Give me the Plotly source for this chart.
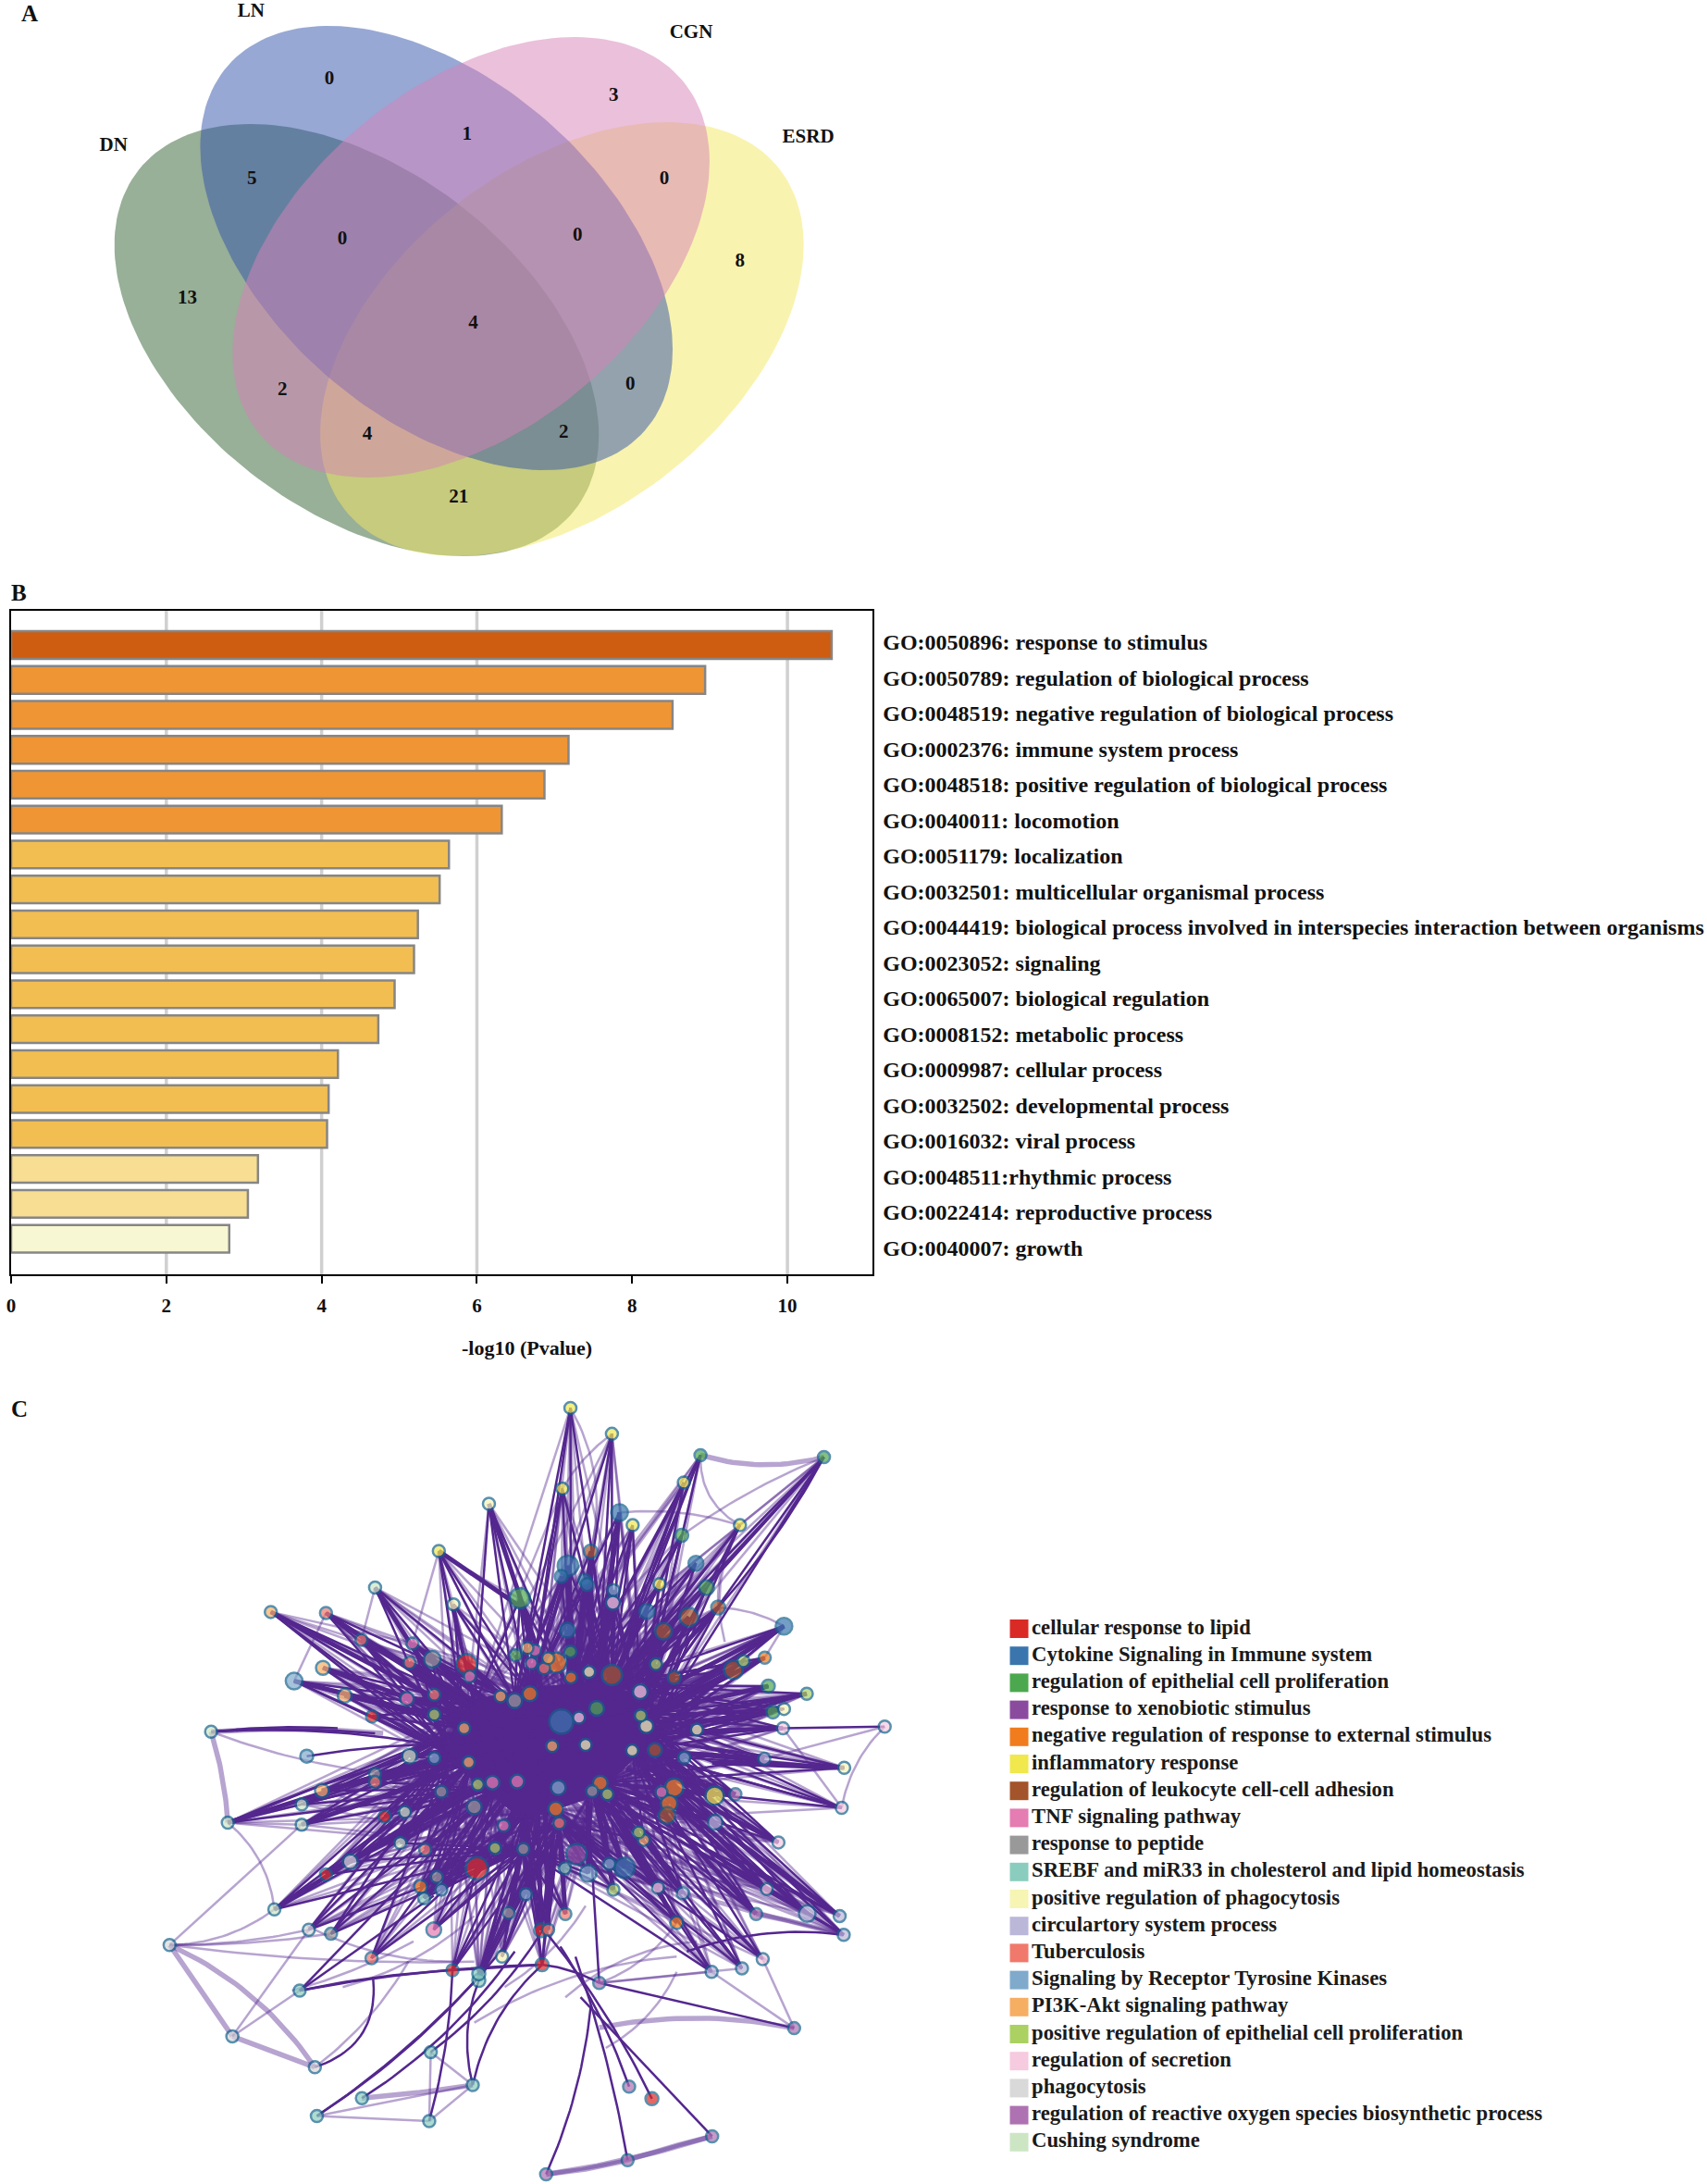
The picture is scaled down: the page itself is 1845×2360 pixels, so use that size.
import numpy as np
import plotly.graph_objects as go

FONT = "Liberation Serif"
W, H = 1845, 2360

# ---------- Panel A: Venn ----------
venn_names = ["DN", "ESRD", "LN", "CGN"]
venn_cx = [385.5, 608, 472, 509.5]
venn_cy = [367.5, 366.5, 268, 278]
venn_w = [262.5, 262, 256, 258.5]
venn_h = [233.5, 234.5, 240, 238]
venn_rho = [0.44, -0.435, 0.457, -0.435]
venn_fill = ["rgba(49,95,49,0.5)", "rgba(243,231,97,0.5)", "rgba(47,81,169,0.5)", "rgba(215,129,183,0.5)"]
venn_label_x = [122, 875, 271, 748]
venn_label_y = [158, 149, 13, 36]
count_values = ["0", "3", "1", "0", "5", "0", "0", "8", "13", "4", "2", "0", "4", "2", "21"]
count_x = [356, 664, 505, 719, 272, 370, 625, 801, 202, 512, 305, 682, 397, 610, 496]
count_y = [86, 104, 146, 194, 194, 258.5, 255, 283, 323, 350, 422, 416, 470, 468, 538]

# ---------- Panel B: bars ----------
go_terms = [
    "GO:0050896: response to stimulus",
    "GO:0050789: regulation of biological process",
    "GO:0048519: negative regulation of biological process",
    "GO:0002376: immune system process",
    "GO:0048518: positive regulation of biological process",
    "GO:0040011: locomotion",
    "GO:0051179: localization",
    "GO:0032501: multicellular organismal process",
    "GO:0044419: biological process involved in interspecies interaction between organisms",
    "GO:0023052: signaling",
    "GO:0065007: biological regulation",
    "GO:0008152: metabolic process",
    "GO:0009987: cellular process",
    "GO:0032502: developmental process",
    "GO:0016032: viral process",
    "GO:0048511:rhythmic process",
    "GO:0022414: reproductive process",
    "GO:0040007: growth",
]
go_values = [10.57, 8.94, 8.52, 7.18, 6.87, 6.32, 5.64, 5.52, 5.24, 5.19, 4.94, 4.73, 4.21, 4.09, 4.07, 3.18, 3.05, 2.81]
go_colors = ["#CE5D12"] + ["#F09533"] * 5 + ["#F2BE52"] * 9 + ["#F7DE92"] * 2 + ["#F7F7D3"]
grid_values = [2, 4, 6, 10]

# ---------- Panel C: network, one node list per cluster ----------
cluster_names = [
    "cellular response to lipid", "Cytokine Signaling in Immune system",
    "regulation of epithelial cell proliferation", "response to xenobiotic stimulus",
    "negative regulation of response to external stimulus", "inflammatory response",
    "regulation of leukocyte cell-cell adhesion", "TNF signaling pathway", "response to peptide",
    "SREBF and miR33 in cholesterol and lipid homeostasis", "positive regulation of phagocytosis",
    "circulartory system process", "Tuberculosis", "Signaling by Receptor Tyrosine Kinases",
    "PI3K-Akt signaling pathway", "positive regulation of epithelial cell proliferation",
    "regulation of secretion", "phagocytosis", "regulation of reactive oxygen species biosynthetic process",
    "Cushing syndrome",
]
cluster_colors = ["#DA2A26", "#3A76AD", "#4CA84E", "#8A4B9F", "#F07C1E", "#F0E84C", "#A3542A", "#E57CB2",
                  "#999999", "#8ACDBE", "#F6F5B4", "#BBB7D9", "#F0796C", "#7FAACC", "#F6AE63", "#AAD162",
                  "#F6CADF", "#D9D9D9", "#AE72B2", "#CCE6C4"]

x0_ = [645, 458, 483, 367, 665, 792, 794, 617, 1011]
y0_ = [544, 647, 844, 958, 946, 1068, 1136, 1147, 1400]
s0_ = [20, 11, 11, 11, 22, 13, 12, 11, 12]
x1_ = [947, 845, 832, 878, 883, 1098, 1001, 1272, 844, 832, 957]
y1_ = [245, 350, 371, 378, 387, 345, 440, 469, 477, 657, 945]
s1_ = [16, 20, 12, 11, 12, 14, 14, 16, 14, 24, 20]
x2_ = [1107, 1351, 1070, 1119, 750, 742, 850, 1241, 902, 1250]
y2_ = [132, 136, 290, 393, 414, 526, 519, 587, 631, 638]
s2_ = [11, 11, 12, 14, 20, 11, 11, 12, 14, 12]
x3_ = [862]
y3_ = [918]
s3_ = [20]
x4_ = [822, 851, 1234, 770, 909, 1055, 1045, 821, 554, 1060]
y4_ = [541, 570, 531, 602, 778, 787, 818, 829, 982, 1053]
s4_ = [20, 11, 11, 14, 14, 18, 16, 14, 12, 12]
x5_ = [850, 932, 1074, 834, 973, 1185, 590, 1026, 1135]
y5_ = [39, 90, 186, 198, 270, 270, 321, 386, 803]
s5_ = [11, 11, 11, 11, 11, 11, 11, 11, 18]
x6_ = [890, 1142, 1084, 1034, 932, 1172, 1055, 1017, 1041]
y6_ = [322, 432, 451, 479, 565, 555, 570, 713, 842]
s6_ = [13, 13, 18, 16, 20, 18, 12, 13, 16]
x7_ = [538, 651, 780, 773, 527, 696, 745, 1030, 718, 580]
y7_ = [503, 568, 517, 542, 612, 777, 775, 796, 862, 1067]
s7_ = [11, 11, 11, 11, 13, 13, 13, 11, 11, 14]
x8_ = [577, 740, 464, 595, 660, 893, 757, 586, 728, 377]
y8_ = [534, 616, 760, 795, 825, 794, 908, 963, 1034, 1075]
s8_ = [16, 14, 11, 11, 14, 11, 11, 11, 11, 11]
x9_ = [839, 561, 669, 669, 315, 574, 657, 438, 349, 571]
y9_ = [946, 1005, 1167, 1154, 1187, 1308, 1373, 1399, 1434, 1444]
s9_ = [11, 11, 12, 12, 11, 11, 11, 11, 11, 11]
x10 = [689, 619, 887, 1000, 1272, 1100, 880, 972, 1391, 715]
y10 = [228, 426, 559, 666, 632, 673, 703, 714, 748, 1120]
s10 = [11, 11, 11, 13, 11, 11, 11, 11, 11, 11]
x11 = [1233, 1136, 1072, 1318, 1382, 1390, 1129, 1189]
y11 = [730, 855, 995, 1035, 1040, 1077, 1150, 1143]
s11 = [11, 14, 11, 16, 11, 11, 11, 11]
x12 = [367, 437, 532, 798, 581, 464, 828, 563, 840, 806, 457]
y12 = [443, 496, 541, 552, 604, 776, 857, 909, 1036, 1067, 1123]
s12 = [11, 11, 11, 11, 11, 11, 11, 11, 11, 11, 11]
x13 = [304, 935, 581, 329, 1075, 826, 885, 927, 595, 762]
y13 = [577, 398, 729, 725, 728, 787, 956, 937, 988, 997]
s13 = [16, 11, 11, 12, 11, 14, 16, 11, 11, 11]
x14 = [258, 361, 404, 765, 806, 712, 640, 814, 649, 359, 995]
y14 = [441, 551, 606, 512, 532, 607, 670, 705, 737, 793, 890]
s14 = [11, 13, 13, 11, 11, 11, 11, 11, 11, 13, 11]
x15 = [581, 1019, 1192, 1317, 989, 667, 923, 985, 701, 935]
y15 = [643, 544, 538, 602, 645, 781, 800, 875, 906, 988]
s15 = [11, 11, 11, 11, 11, 11, 11, 11, 11, 11]
x16 = [934, 988, 867, 1270, 1471, 1386, 1261, 1023, 1238, 1230]
y16 = [423, 598, 649, 670, 667, 827, 895, 984, 987, 1125]
s16 = [13, 14, 11, 11, 11, 11, 11, 11, 11, 11]
x17 = [415, 333, 58, 182, 345]
y17 = [933, 1067, 1097, 1277, 1338]
s17 = [14, 11, 11, 11, 11]
x18 = [1176, 1217, 907, 1292, 966, 1130, 963, 802]
y18 = [800, 1036, 1172, 1261, 1376, 1474, 1521, 1549]
s18 = [11, 11, 11, 11, 11, 11, 11, 11]
x19 = [464, 140, 532, 319, 173, 319, 523, 514, 265]
y19 = [393, 677, 725, 820, 856, 860, 835, 896, 1027]
s19 = [11, 11, 14, 11, 11, 11, 11, 11, 11]

cluster_x = [x0_, x1_, x2_, x3_, x4_, x5_, x6_, x7_, x8_, x9_, x10, x11, x12, x13, x14, x15, x16, x17, x18, x19]
cluster_y = [y0_, y1_, y2_, y3_, y4_, y5_, y6_, y7_, y8_, y9_, y10, y11, y12, y13, y14, y15, y16, y17, y18, y19]
cluster_s = [s0_, s1_, s2_, s3_, s4_, s5_, s6_, s7_, s8_, s9_, s10, s11, s12, s13, s14, s15, s16, s17, s18, s19]

# central nodes that most terms connect to
core_x = [740, 770, 832, 902, 867, 880, 814, 972, 1000, 745, 826, 909, 893, 696, 851, 932, 989, 640, 655, 660, 610, 700, 760, 780]
core_y = [616, 602, 657, 631, 649, 703, 705, 714, 690, 775, 787, 778, 794, 710, 600, 585, 645, 670, 737, 625, 720, 790, 840, 690]
spoke_x = [821, 757, 828]
spoke_y = [829, 908, 857]
# terms on the rim with only the hand-read links below
rim_x = [58, 182, 345, 802, 963, 1130, 1292, 1471, 349, 438, 571, 574, 657, 315, 966, 1011, 907, 140, 329]
rim_y = [1097, 1277, 1338, 1549, 1521, 1474, 1261, 667, 1434, 1399, 1444, 1308, 1373, 1187, 1376, 1400, 1172, 677, 725]

# heavy bundles running into the core: x0, y0, x1, y1
trunk_links = [
    (845, 350, 860, 610), (890, 322, 890, 610), (947, 245, 900, 570), (880, 400, 860, 610), (934, 423, 890, 600),
    (844, 477, 850, 620), (850, 519, 840, 640), (1034, 479, 945, 640), (1084, 451, 950, 620), (1142, 432, 960, 630),
    (1172, 555, 1000, 660), (1272, 469, 1000, 650), (1272, 469, 1020, 600), (1317, 602, 1010, 660), (1241, 587, 1010, 640),
    (1250, 638, 1000, 670), (1270, 670, 1000, 680), (1234, 531, 1000, 650), (1055, 570, 960, 650), (1075, 728, 980, 715),
    (1233, 730, 1020, 715), (1391, 748, 1130, 738), (1041, 842, 950, 770), (1055, 787, 960, 750), (1135, 803, 980, 740),
    (1176, 800, 980, 740), (1261, 895, 1040, 780), (1382, 1040, 1040, 790), (1318, 1035, 1030, 790), (1217, 1036, 1000, 800),
    (1238, 987, 1020, 790), (1072, 995, 960, 820), (1023, 984, 930, 820), (1060, 1053, 930, 830), (935, 988, 905, 830),
    (957, 945, 900, 810), (885, 956, 885, 820), (792, 1068, 785, 820), (806, 1067, 800, 820), (728, 1034, 770, 820),
    (762, 997, 790, 810), (840, 1036, 825, 820), (757, 908, 790, 800), (701, 906, 770, 790), (665, 946, 760, 800),
    (595, 988, 740, 790), (561, 1005, 720, 800), (563, 909, 720, 780), (415, 933, 690, 780), (367, 958, 660, 790),
    (265, 1027, 640, 790), (319, 860, 610, 760), (359, 793, 620, 730), (464, 776, 650, 720), (173, 856, 464, 765),
    (532, 725, 700, 700), (527, 612, 700, 660), (404, 606, 660, 660), (361, 551, 640, 650), (304, 577, 640, 660),
    (258, 441, 660, 650), (367, 443, 660, 640), (437, 496, 680, 640), (532, 541, 700, 640), (577, 534, 720, 640),
    (645, 544, 740, 630), (590, 321, 750, 430), (750, 414, 800, 620), (689, 228, 800, 560), (464, 393, 620, 640),
    (538, 503, 710, 640),
]
# visible individual links: x0, y0, x1, y1, bend
strong_links = [
    (140, 677, 560, 700, -0.03), (329, 725, 650, 700, -0.02), (173, 856, 530, 730, -0.02),
    (315, 1187, 617, 1147, -0.02), (315, 1187, 794, 1136, -0.02), (315, 1187, 580, 1000, 0.0), (315, 1187, 640, 850, 0.0),
    (349, 1434, 669, 1160, 0.03), (349, 1434, 720, 1100, 0.04), (438, 1399, 740, 1110, 0.05), (574, 1308, 800, 1060, 0.05),
    (571, 1444, 617, 1147, 0.03), (657, 1373, 669, 1167, -0.08), (657, 1373, 794, 1136, -0.08), (345, 1338, 460, 1160, 0.2),
    (617, 1147, 794, 1136, 0.0), (802, 1549, 890, 1220, 0.04), (963, 1521, 860, 1120, 0.02), (1130, 1474, 870, 1200, 0.0),
    (966, 1376, 830, 1100, 0.03), (1011, 1400, 800, 1070, 0.03), (1292, 1261, 907, 1172, 0.0), (794, 1136, 907, 1172, -0.05),
    (907, 1172, 890, 900, 0.0), (1386, 827, 1000, 720, 0.0), (1391, 748, 1075, 728, 0.0),
    (1351, 136, 1142, 432, -0.03), (1351, 136, 950, 560, 0.01), (1390, 1077, 1080, 1110, 0.06), (140, 677, 464, 680, -0.02),
    (140, 677, 390, 670, -0.02), (1471, 667, 1270, 670, 0.0),
]
light_links = [
    (1351, 136, 1185, 270, 0.0), (1351, 136, 1070, 290, 0.03), (1185, 270, 947, 245, 0.05), (1185, 270, 1142, 432, 0.08),
    (1185, 270, 1155, 500, 0.1), (1107, 132, 1185, 270, 0.15), (850, 39, 890, 322, -0.1), (932, 90, 834, 198, 0.05),
    (1272, 469, 1142, 432, 0.06), (1272, 469, 1234, 531, 0.0), (1471, 667, 1233, 730, 0.0), (1471, 667, 1386, 827, 0.08),
    (1386, 827, 1270, 670, 0.0), (140, 677, 480, 760, 0.03), (173, 856, 319, 860, 0.0), (173, 856, 319, 820, 0.0),
    (173, 856, 265, 1027, -0.1), (258, 441, 538, 503, 0.0), (367, 443, 304, 577, 0.0), (367, 443, 538, 503, 0.0),
    (464, 393, 645, 544, 0.0), (464, 393, 437, 496, 0.0), (590, 321, 750, 414, 0.02), (590, 321, 538, 503, 0.0),
    (619, 426, 645, 544, 0.0), (58, 1097, 265, 1027, 0.08), (58, 1097, 333, 1067, 0.03), (58, 1097, 377, 1075, 0.02),
    (58, 1097, 660, 1130, 0.02), (58, 1097, 319, 860, 0.0), (182, 1277, 333, 1067, 0.0), (182, 1277, 315, 1187, 0.0),
    (345, 1338, 530, 1130, 0.05), (349, 1434, 657, 1373, 0.0), (349, 1434, 571, 1444, 0.0), (574, 1308, 571, 1444, 0.0),
    (574, 1308, 657, 1373, 0.0), (571, 1444, 657, 1373, 0.0), (1292, 1261, 1230, 1125, 0.0), (1292, 1261, 1129, 1150, 0.0),
    (907, 1172, 1129, 1150, 0.0), (907, 1172, 1189, 1143, 0.0), (907, 1172, 1060, 1053, 0.08), (920, 1300, 1060, 1150, 0.08),
    (1390, 1077, 1217, 1036, 0.0), (840, 1200, 1100, 1090, -0.08), (660, 1250, 1060, 1120, -0.06), (400, 1180, 660, 1040, 0.06),
    (300, 1187, 540, 1090, 0.03), (720, 1180, 880, 1020, 0.06), (330, 1060, 620, 1130, 0.06), (1100, 1000, 1240, 1130, 0.0),
]
thick_links = [
    (1107, 132, 1351, 136, 0.07), (140, 677, 173, 856, -0.03), (58, 1097, 182, 1277, 0.0), (58, 1097, 345, 1338, -0.07),
    (182, 1277, 345, 1338, 0.0), (438, 1399, 657, 1373, 0.01), (802, 1549, 963, 1521, 0.02), (802, 1549, 1130, 1474, 0.02),
    (963, 1521, 1130, 1474, -0.01), (1292, 1261, 907, 1260, 0.05), (1390, 1077, 1217, 1036, 0.01), (140, 677, 480, 680, -0.02),
]

# ---------- build curves from the lists ----------
def curve(x0, y0, x1, y1, bend, out_x, out_y):
    if bend == 0:
        out_x += [x0, x1, None]
        out_y += [y0, y1, None]
        return
    mx, my = (x0 + x1) / 2, (y0 + y1) / 2
    cx, cy = mx - (y1 - y0) * bend * 2, my + (x1 - x0) * bend * 2
    for t in np.linspace(0, 1, 24):
        out_x.append(float((1 - t) ** 2 * x0 + 2 * t * (1 - t) * cx + t ** 2 * x1))
        out_y.append(float((1 - t) ** 2 * y0 + 2 * t * (1 - t) * cy + t ** 2 * y1))
    out_x.append(None)
    out_y.append(None)

rim = set(zip(rim_x, rim_y))
core = list(zip(core_x, core_y))
hubs = core + list(zip(spoke_x, spoke_y))
CENTER = (800, 700)
sx, sy, lx, ly, tx, ty, bx, by, kx, ky = [], [], [], [], [], [], [], [], [], []
for xs, ys in zip(cluster_x, cluster_y):
    for nx, ny in zip(xs, ys):
        if (nx, ny) in rim:
            continue
        order = sorted(hubs, key=lambda h: (h[0] - nx) ** 2 + (h[1] - ny) ** 2)
        inner = (nx - CENTER[0]) ** 2 + (ny - CENTER[1]) ** 2 < 260 ** 2
        n_strong, n_light = (1, 3) if inner else (4, 6)
        for hx, hy in order[:n_strong]:
            curve(nx, ny, hx, hy, 0, sx, sy)
        for hx, hy in order[n_strong:n_strong + n_light]:
            curve(nx, ny, hx, hy, 0, lx, ly)
for i, (ax, ay) in enumerate(core):
    for (cx_, cy_) in core[i + 1:]:
        curve(ax, ay, cx_, cy_, 0, bx, by)
for link in trunk_links:
    curve(*link, 0, kx, ky)
for link in strong_links:
    curve(*link, sx, sy)
for link in light_links:
    curve(*link, lx, ly)
for link in thick_links:
    curve(*link, tx, ty)

NET = dict(xaxis="x3", yaxis="y3")
PAGE = dict(xaxis="x", yaxis="y")
EDGE = "#54278F"

fig = go.Figure()

# Venn
t = np.linspace(0, 2 * np.pi, 181)
for name, cx, cy, w, h, rho, fill in zip(venn_names, venn_cx, venn_cy, venn_w, venn_h, venn_rho, venn_fill):
    fig.add_trace(go.Scatter(
        x=cx + w * np.cos(t), y=cy + h * (rho * np.cos(t) + np.sqrt(1 - rho ** 2) * np.sin(t)),
        mode="lines", line=dict(width=0), fill="toself", fillcolor=fill, name=name,
        hoverinfo="name", showlegend=False, **PAGE))
fig.add_trace(go.Scatter(x=count_x, y=count_y, text=count_values, mode="text", showlegend=False,
                         textfont=dict(family=FONT, size=21, color="#111111", weight="bold"), **PAGE))
fig.add_trace(go.Scatter(x=venn_label_x, y=venn_label_y, text=venn_names, mode="text", showlegend=False,
                         textfont=dict(family=FONT, size=21, color="#111111", weight="bold"), **PAGE))

# Bars
go_rows = list(range(len(go_terms)))
BAR_TOP, BAR_BOTTOM, ROW_PX, ROW0_PX = 659.5, 1377, 37.74, 697
LABEL0_PX, LABEL_STEP_PX = 693.8, 38.5
label_rows = [(LABEL0_PX + LABEL_STEP_PX * i - ROW0_PX) / ROW_PX for i in go_rows]
fig.add_trace(go.Bar(x=go_values, y=go_rows, hovertext=go_terms, orientation="h", width=0.79, showlegend=False,
                     marker=dict(color=go_colors, line=dict(color="#868686", width=2.5)),
                     xaxis="x2", yaxis="y2"))

# Network edges
fig.add_trace(go.Scatter(x=tx, y=ty, mode="lines", line=dict(color="rgba(84,39,143,0.42)", width=5.5), showlegend=False, hoverinfo="skip", **NET))
fig.add_trace(go.Scatter(x=lx, y=ly, mode="lines", line=dict(color="rgba(84,39,143,0.42)", width=2.5), showlegend=False, hoverinfo="skip", **NET))
fig.add_trace(go.Scatter(x=sx, y=sy, mode="lines", line=dict(color=EDGE, width=2.5), showlegend=False, hoverinfo="skip", **NET))
fig.add_trace(go.Scatter(x=kx, y=ky, mode="lines", line=dict(color=EDGE, width=5), showlegend=False, hoverinfo="skip", **NET))
fig.add_trace(go.Scatter(x=bx, y=by, mode="lines", line=dict(color=EDGE, width=13), showlegend=False, hoverinfo="skip", **NET))

# Network nodes and legend
LEG_X, LEG_Y, LEG_STEP = 1103.5, 1760, 29.2
for i, (name, col, xs, ys, ss) in enumerate(zip(cluster_names, cluster_colors, cluster_x, cluster_y, cluster_s)):
    fig.add_trace(go.Scatter(x=xs, y=ys, mode="markers", name=name, showlegend=False,
                             marker=dict(color=col, size=[v + 2 for v in ss], line=dict(color="#13628C", width=2.5)), **NET))
    fig.add_trace(go.Scatter(x=[LEG_X], y=[LEG_Y + i * LEG_STEP], text=[name], mode="markers+text",
                             textposition="middle right", showlegend=False, hoverinfo="skip",
                             textfont=dict(family=FONT, size=22.7, color="#1a1a1a", weight="bold"),
                             marker=dict(symbol="square", size=20, color=col, line=dict(width=0)), **PAGE))

def letter(txt, x, y):
    return dict(text=txt, x=x, y=y, xref="x", yref="y", showarrow=False,
                font=dict(family=FONT, size=25, color="#111111", weight="bold"))

SHIFT = 4
fig.update_layout(
    width=W, height=H, margin=dict(l=0, r=0, t=0, b=0), paper_bgcolor="white", plot_bgcolor="rgba(0,0,0,0)",
    showlegend=False, bargap=0.2,
    xaxis=dict(domain=[0, 1], range=[SHIFT, W + SHIFT], visible=False),
    yaxis=dict(domain=[0, 1], range=[H, 0], visible=False),
    xaxis2=dict(domain=[(11 - SHIFT) / W, (945 - SHIFT) / W], range=[0, 934 / 84.14], anchor="y2", showline=True, linecolor="black", linewidth=2,
                mirror=True, ticks="outside", ticklen=8, tickwidth=2, tickcolor="black", tickvals=[0, 2, 4, 6, 8, 10],
                showgrid=False, zeroline=False, ticklabelstandoff=6,
                tickfont=dict(family=FONT, size=21, color="#111111", weight="bold")),
    yaxis2=dict(domain=[1 - BAR_BOTTOM / H, 1 - BAR_TOP / H], anchor="x2", side="right",
                range=[17 + (BAR_BOTTOM - 1338.6) / ROW_PX, -(ROW0_PX - BAR_TOP) / ROW_PX], showline=True, linecolor="black",
                linewidth=2, mirror=True, ticks="outside", ticklen=4, tickcolor="rgba(0,0,0,0)", showgrid=False, zeroline=False,
                tickmode="array", tickvals=label_rows, ticktext=go_terms,
                tickfont=dict(family=FONT, size=24, color="#111111", weight="bold")),
    xaxis3=dict(domain=[147 / W, 1007 / W], range=[0, 1568], anchor="y3", visible=False),
    yaxis3=dict(domain=[0, 860 / H], range=[1568, 0], anchor="x3", visible=False),
    shapes=[dict(type="line", layer="below", xref="x2", yref="y2 domain", x0=v, x1=v, y0=0, y1=1,
                 line=dict(color="#D0D0D0", width=3.5)) for v in grid_values],
    annotations=[letter("A", 31, 14), letter("B", 20, 640), letter("C", 20, 1522),
                 dict(text="-log10 (Pvalue)", x=570, y=1456, xref="x", yref="y", showarrow=False,
                      font=dict(family=FONT, size=22, color="#111111", weight="bold"))],
)
fig.write_html("out.html", post_script="document.body.style.margin='0';", config={"displayModeBar": False})
